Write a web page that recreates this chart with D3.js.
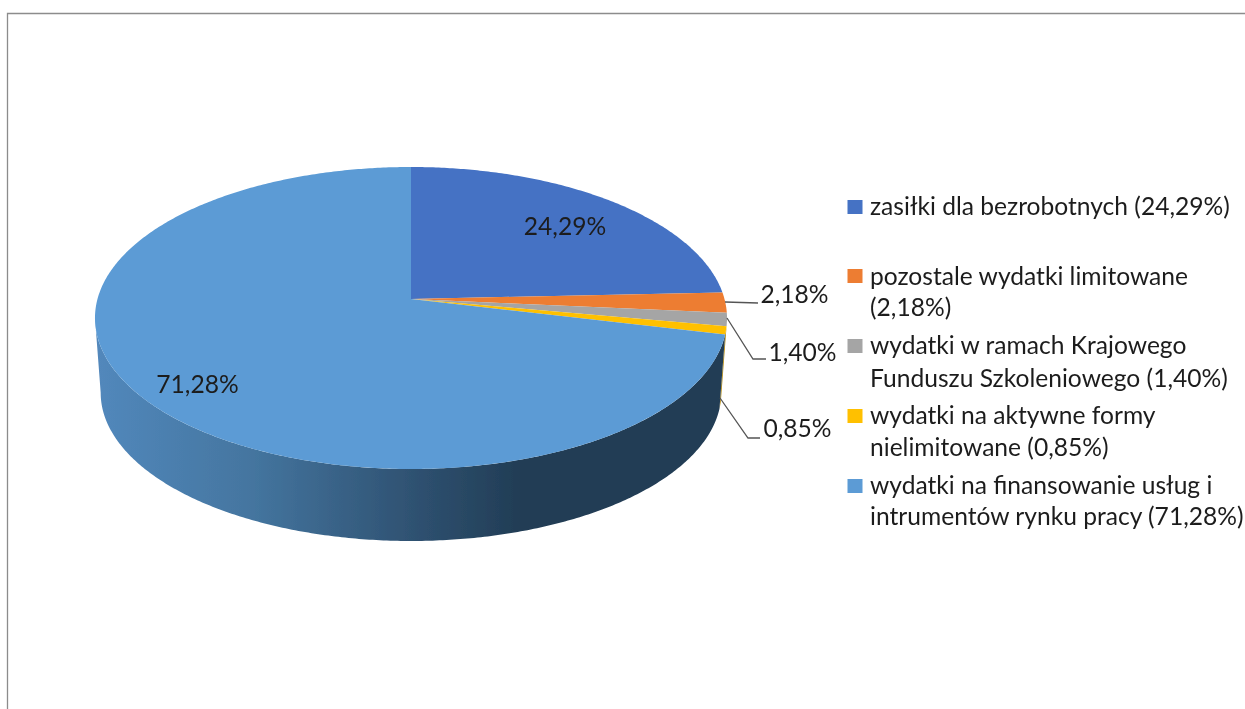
<!DOCTYPE html>
<html lang="pl"><head><meta charset="utf-8">
<script src="https://cdn.jsdelivr.net/npm/d3@7"></script>
<style>html,body{margin:0;padding:0;background:#fff;overflow:hidden}svg{display:block}text{font-family:Lato,Carlito,sans-serif;fill:#1c1c1c}</style>
</head><body><svg id="c" width="1245" height="709"></svg>
<script>
const categories=["zasiłki dla bezrobotnych","pozostale wydatki limitowane","wydatki w ramach Krajowego Funduszu Szkoleniowego","wydatki na aktywne formy nielimitowane","wydatki na finansowanie usług i intrumentów rynku pracy"];
const values=[24.29,2.18,1.40,0.85,71.28];
const colors=["#4472C4","#ED7D31","#A5A5A5","#FFC000","#5B9BD5"];
const legendLines=[["zasiłki dla bezrobotnych (24,29%)"],["pozostale wydatki limitowane","(2,18%)"],["wydatki w ramach Krajowego","Funduszu Szkoleniowego (1,40%)"],["wydatki na aktywne formy","nielimitowane (0,85%)"],["wydatki na finansowanie usług i","intrumentów rynku pracy (71,28%)"]];

const fs=24.6;
const fmt=v=>v.toFixed(2).replace(".",",")+"%";
const svg=d3.select("#c");
const defs=svg.append("defs");
const grad=defs.append("linearGradient").attr("id","wall").attr("gradientUnits","userSpaceOnUse").attr("x1",95).attr("x2",727).attr("y1",0).attr("y2",0);
[[0,"#5288BC"],[0.25,"#44759F"],[0.5,"#2F5272"],[0.68,"#213C54"],[1,"#213C54"]].forEach(s=>grad.append("stop").attr("offset",s[0]).attr("stop-color",s[1]));
defs.append("filter").attr("id","soft").attr("x","-5%").attr("y","-5%").attr("width","110%").attr("height","110%").append("feGaussianBlur").attr("stdDeviation",0.45);
defs.append("filter").attr("id","softText").attr("x","-5%").attr("y","-5%").attr("width","110%").attr("height","110%").append("feGaussianBlur").attr("stdDeviation",0.3);

// chart frame
svg.append("path").attr("d","M7.5,709V13.5H1245").attr("fill","none").attr("stroke","#8c8c8c").attr("stroke-width",1.3);

// perspective projection of the pie disc
const cx=411,k=0.1258;
const proj=(a,s,dy)=>{
  const u=Math.sin(a),v=-Math.cos(a),w=1-k*v;
  const X=cx+313.5*s*u/w;
  const Y=(111*v+299)/w;
  return [X,318+(Y-318)*s+dy];
};
const topEdge=a=>proj(a,1,0), botEdge=a=>proj(a,0.982,74.7);
const arcs=d3.pie().sort(null).value(d=>d)(values);
const samples=(a0,a1)=>{const n=Math.max(2,Math.ceil((a1-a0)/0.01));return d3.range(n+1).map(i=>a0+(a1-a0)*i/n);};
const line=d3.line();
const g=svg.append("g").attr("filter","url(#soft)");

// side wall: front-facing part of each slice, up to the silhouette tangent
const wallFrom=1.72, wallTo=2*Math.PI-Math.acos(-k);
arcs.forEach((d,i)=>{
  const a0=Math.max(d.startAngle,wallFrom),a1=Math.min(d.endAngle,wallTo);
  if(a1<=a0)return;
  const s=samples(a0,a1);
  g.append("path").attr("d",line(s.map(topEdge).concat(s.slice().reverse().map(botEdge)))+"Z")
    .attr("fill",i===4?"url(#wall)":d3.color(colors[i]).darker(1));
});
// top faces
arcs.forEach((d,i)=>{
  const s=samples(d.startAngle,d.endAngle);
  g.append("path").attr("d",line([[cx,299]].concat(s.map(topEdge)))+"Z").attr("fill",colors[i]);
});

// leader lines
const leaders=[[[725,302],[758,303]],[[727,318],[753,359],[766,359]],[[720,398],[748,438],[760,438]]];
leaders.forEach(p=>g.append("path").attr("d",line(p)).attr("fill","none").attr("stroke","#555").attr("stroke-width",1.3));

// data labels
const labelPos=[[565,235],[794.5,303],[802.5,360.5],[797.5,437],[197.5,392.5]];
svg.append("g").attr("filter","url(#softText)").selectAll("text").data(values).join("text")
  .attr("x",(d,i)=>labelPos[i][0]).attr("y",(d,i)=>labelPos[i][1])
  .attr("text-anchor","middle").attr("font-size",fs).text(fmt);

// legend
const swatchY=[200,269,339,409,479];
const baseY=[[215],[285,316],[354,386.5],[424,456],[494,525]];
const lg=svg.append("g").attr("filter","url(#softText)");
categories.forEach((c,i)=>{
  lg.append("rect").attr("x",847.5).attr("y",swatchY[i]).attr("width",15).attr("height",14).attr("fill",colors[i]);
  legendLines[i].forEach((t,j)=>lg.append("text").attr("x",870).attr("y",baseY[i][j]).attr("font-size",fs).text(t));
});
</script></body></html>
